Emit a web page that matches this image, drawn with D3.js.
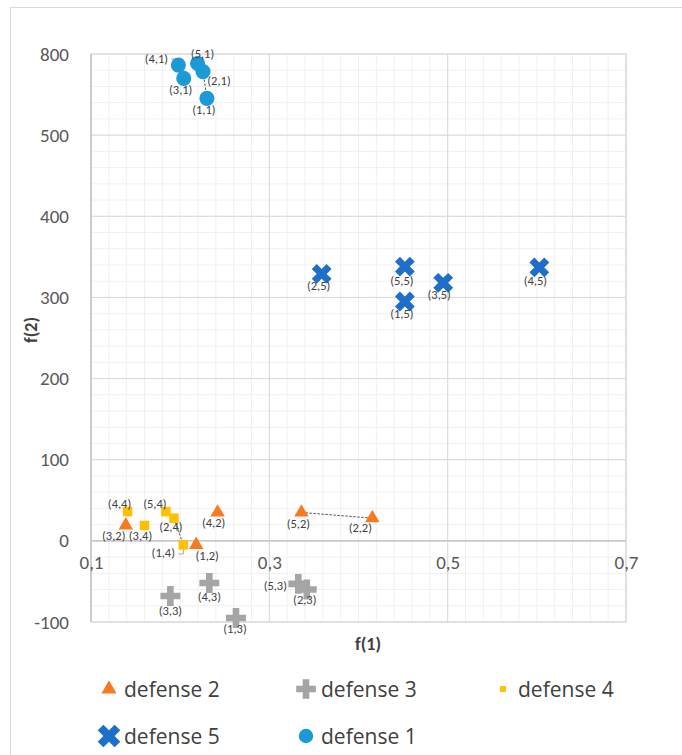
<!DOCTYPE html>
<html>
<head>
<meta charset="utf-8">
<script src="https://cdn.jsdelivr.net/npm/d3@7"></script>
<style>
  body { margin: 0; background: #fff; }
  svg { display: block; font-family: Carlito, Calibri, Lato, sans-serif; }
</style>
</head>
<body>
<svg id="chart" width="682" height="755"></svg>
<script>
// series: label, f(1), f(2)
const defense1 = [["(1,1)", 0.230, 636], ["(2,1)", 0.2256, 735], ["(3,1)", 0.204, 710], ["(4,1)", 0.198, 759], ["(5,1)", 0.2195, 765]];
const defense2 = [["(1,2)", 0.218, -5], ["(2,2)", 0.4155, 28], ["(3,2)", 0.139, 19], ["(4,2)", 0.242, 35], ["(5,2)", 0.336, 35]];
const defense3 = [["(1,3)", 0.2626, -95], ["(2,3)", 0.342, -60], ["(3,3)", 0.189, -68], ["(4,3)", 0.2327, -52], ["(5,3)", 0.3325, -53]];
const defense4 = [["(1,4)", 0.2035, -5], ["(2,4)", 0.193, 28], ["(3,4)", 0.160, 19], ["(4,4)", 0.141, 36], ["(5,4)", 0.184, 36]];
const defense5 = [["(1,5)", 0.452, 295], ["(2,5)", 0.3587, 329], ["(3,5)", 0.495, 318], ["(4,5)", 0.6028, 337], ["(5,5)", 0.452, 338]];

const xTicks = [0.1, 0.3, 0.5, 0.7];
const yTicks = [-100, 0, 100, 200, 300, 400, 500, 800];
const legendOrder = ["defense 2", "defense 3", "defense 4", "defense 5", "defense 1"];

// dashed connectors between points (series, label a, label b)
const connectors = [["defense 2", "(5,2)", "(2,2)"], ["defense 4", "(2,4)", "(1,4)"], ["defense 1", "(2,1)", "(1,1)"]];

const series = [
    { name: "defense 1", data: defense1, color: "#1c9ad6", shape: d3.symbolCircle, size: 180, rot: 0 },
    { name: "defense 2", data: defense2, color: "#f77a20", shape: d3.symbolTriangle, size: 90, rot: 0 },
    { name: "defense 3", data: defense3, color: "#a5a5a5", shape: d3.symbolCross, size: 220, rot: 0 },
    { name: "defense 4", data: defense4, color: "#ffc000", shape: d3.symbolSquare, size: 90, rot: 0 },
    { name: "defense 5", data: defense5, color: "#1e6fc8", shape: d3.symbolCross, size: 245, rot: 45 }
];

// label offsets in px from the marker
const labelOffset = {
    "(1,1)": [-3, 11], "(2,1)": [16, 9], "(3,1)": [-3, 11], "(4,1)": [-22, -7], "(5,1)": [5, -10],
    "(1,2)": [11, 11], "(2,2)": [-12, 9], "(3,2)": [-12, 10], "(4,2)": [-4, 10], "(5,2)": [-3, 11],
    "(1,3)": [-1, 11], "(2,3)": [-2, 10], "(3,3)": [0, 14], "(4,3)": [0, 13], "(5,3)": [-23, 2],
    "(1,4)": [-20, 8], "(2,4)": [-3, 8], "(3,4)": [-4, 10], "(4,4)": [-8, -8], "(5,4)": [-11, -8],
    "(1,5)": [-3, 12], "(2,5)": [-3, 12], "(3,5)": [-4, 12], "(4,5)": [-4, 13], "(5,5)": [-3, 14]
};

const margin = { left: 91, top: 54 };
const width = 535, height = 568;

const svg = d3.select("#chart");

svg.append("rect")
    .attr("x", 10.5).attr("y", 7.5)
    .attr("width", 700).attr("height", 800)
    .attr("fill", "none").attr("stroke", "#d9d9d9");

const g = svg.append("g").attr("transform", `translate(${margin.left},${margin.top})`);

const x = d3.scaleLinear().domain([0.1, 0.7]).range([0, width]);
const y = d3.scaleLinear().domain([-100, 500, 800]).range([height, height / 7, 0]);

// minor grid
const minorX = d3.range(0.1, 0.7001, 0.02);
const minorY = d3.range(-100, 500, 20).concat(d3.range(500, 800, 60));
g.selectAll(".minor-x").data(minorX).join("line")
    .attr("x1", d => x(d)).attr("x2", d => x(d))
    .attr("y1", 0).attr("y2", height)
    .attr("stroke", "#f0f0f0");
g.selectAll(".minor-y").data(minorY).join("line")
    .attr("x1", 0).attr("x2", width)
    .attr("y1", d => y(d)).attr("y2", d => y(d))
    .attr("stroke", "#f0f0f0");

// major grid
g.selectAll(".major-x").data(xTicks).join("line")
    .attr("x1", d => x(d)).attr("x2", d => x(d))
    .attr("y1", 0).attr("y2", height)
    .attr("stroke", "#d9d9d9");
g.selectAll(".major-y").data(yTicks).join("line")
    .attr("x1", 0).attr("x2", width)
    .attr("y1", d => y(d)).attr("y2", d => y(d))
    .attr("stroke", "#d9d9d9");

g.append("rect")
    .attr("width", width).attr("height", height)
    .attr("fill", "none").attr("stroke", "#d9d9d9");

// zero line
g.append("line")
    .attr("x1", 0).attr("x2", width)
    .attr("y1", y(0)).attr("y2", y(0))
    .attr("stroke", "#bfbfbf").attr("stroke-width", 1.2);
g.append("line")
    .attr("x1", 0).attr("x2", 0)
    .attr("y1", 0).attr("y2", height)
    .attr("stroke", "#bfbfbf").attr("stroke-width", 1.2);

const comma = d3.formatLocale({ decimal: ",", thousands: ".", grouping: [3], currency: ["", ""], minus: "-" });

const xAxis = g.append("g")
    .attr("transform", `translate(0,${y(0)})`)
    .call(d3.axisBottom(x).tickValues(xTicks).tickSize(0).tickPadding(15).tickFormat(comma.format(".1f")));
xAxis.select(".domain").remove();

const yAxis = g.append("g")
    .call(d3.axisLeft(y).tickValues(yTicks).tickSize(0).tickPadding(22).tickFormat(comma.format("d")));
yAxis.select(".domain").remove();

svg.selectAll(".tick text")
    .style("font-family", "Carlito, Calibri, Lato, sans-serif")
    .style("font-size", "19px")
    .attr("fill", "#595959");

// connectors
const find = (name, label) => {
    const s = series.find(s => s.name === name);
    return s.data.find(d => d[0] === label);
};
connectors.forEach(([name, a, b]) => {
    const p = find(name, a), q = find(name, b);
    g.append("line")
        .attr("x1", x(p[1])).attr("y1", y(p[2]))
        .attr("x2", x(q[1])).attr("y2", y(q[2]))
        .attr("stroke", "#404040").attr("stroke-width", 0.9)
        .attr("stroke-dasharray", "2.5,1.5");
});

// leader lines for a couple of labels
[["defense 1", "(4,1)"], ["defense 4", "(1,4)"]].forEach(([name, label]) => {
    const p = find(name, label);
    const off = labelOffset[label];
    const px = x(p[1]), py = y(p[2]);
    const lx = px + off[0] + 15, ly = py + off[1] + 1;
    g.append("path")
        .attr("d", `M${lx},${ly}H${px}V${py}`)
        .attr("fill", "none").attr("stroke", "#a6a6a6").attr("stroke-width", 1);
});

// markers
series.forEach(s => {
    g.selectAll(null).data(s.data).join("path")
        .attr("d", d3.symbol().type(s.shape).size(s.size))
        .attr("transform", d => `translate(${x(d[1])},${y(d[2])}) rotate(${s.rot})`)
        .attr("fill", s.color);
});

// data labels
series.forEach(s => {
    g.selectAll(null).data(s.data).join("text")
        .attr("x", d => x(d[1]) + labelOffset[d[0]][0])
        .attr("y", d => y(d[2]) + labelOffset[d[0]][1])
        .attr("text-anchor", "middle")
        .attr("dominant-baseline", "central")
        .style("font-size", "12.5px")
        .attr("fill", "#404040")
        .text(d => d[0]);
});

// axis titles
svg.append("text")
    .attr("x", 368)
    .attr("y", 644)
    .attr("text-anchor", "middle")
    .attr("dominant-baseline", "central")
    .style("font-size", "18px").style("font-weight", "bold")
    .attr("fill", "#404040")
    .text("f(1)");
svg.append("text")
    .attr("transform", "translate(31,330) rotate(-90)")
    .attr("text-anchor", "middle")
    .attr("dominant-baseline", "central")
    .style("font-size", "18px").style("font-weight", "bold")
    .attr("fill", "#404040")
    .text("f(2)");

// legend
const legendScale = { "defense 2": 0.85, "defense 3": 0.75, "defense 4": 0.3, "defense 5": 1, "defense 1": 0.7 };
const legend = svg.append("g");
legendOrder.forEach((name, i) => {
    const s = series.find(s => s.name === name);
    const col = i % 3, row = Math.floor(i / 3);
    const lg = legend.append("g").attr("transform", `translate(${109 + col * 197},${689 + row * 47})`);
    lg.append("path")
        .attr("d", d3.symbol().type(s.shape).size(s.size * legendScale[name] * 1.3))
        .attr("transform", `rotate(${s.rot})`)
        .attr("fill", s.color);
    lg.append("text")
        .attr("x", 15)
        .attr("dominant-baseline", "central")
        .style("font-family", "'Open Sans', Lato, sans-serif")
        .style("font-size", "21px")
        .attr("fill", "#404040")
        .text(name);
});
</script>
</body>
</html>
